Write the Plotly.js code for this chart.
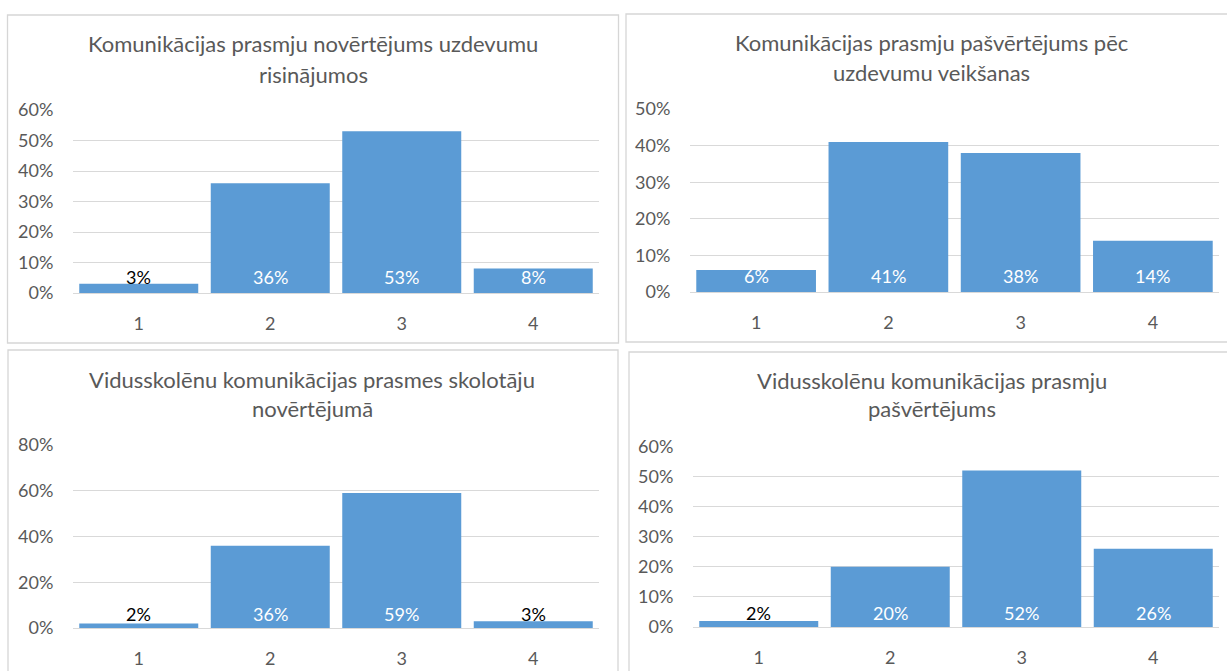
<!DOCTYPE html>
<html>
<head>
<meta charset="utf-8">
<script src="https://cdn.plot.ly/plotly-3.0.1.min.js"></script>
<style>
  html, body { margin: 0; padding: 0; background: #ffffff; }
  #chart { width: 1227px; height: 671px; }
</style>
</head>
<body>
<div id="chart"></div>
<script>
// Skill level categories shared by all four charts
const categories = ['1', '2', '3', '4'];

// Share of answers per level, in percent
const taskAssessment = [3, 36, 53, 8];        // Komunikācijas prasmju novērtējums uzdevumu risinājumos
const selfAfterTasks = [6, 41, 38, 14];       // Komunikācijas prasmju pašvērtējums pēc uzdevumu veikšanas
const teacherAssessment = [2, 36, 59, 3];     // Vidusskolēnu komunikācijas prasmes skolotāju novērtējumā
const studentSelfAssessment = [2, 20, 52, 26]; // Vidusskolēnu komunikācijas prasmju pašvērtējums

// Chart titles, one entry per printed line
const titleLines = [
  ['Komunikācijas prasmju novērtējums uzdevumu', 'risinājumos'],
  ['Komunikācijas prasmju pašvērtējums pēc', 'uzdevumu veikšanas'],
  ['Vidusskolēnu komunikācijas prasmes skolotāju', 'novērtējumā'],
  ['Vidusskolēnu komunikācijas prasmju', 'pašvērtējums']
];

// Value axis maximum and step for each chart
const axisMax = [60, 50, 80, 60];
const axisStep = [10, 10, 20, 10];

const W = 1227, H = 671;
const px = v => v / W;
const py = v => 1 - v / H;

// Pixel layout of each panel: frame box, plot area, title line positions, label lift
const panels = [
  { frame: [7.5, 15, 618.5, 343], plot: [73, 110, 599, 293], titleX: 313, titleY: [44, 74], lift: 16 },
  { frame: [626, 14, 1240, 342], plot: [690, 109, 1219, 292], titleX: 932, titleY: [43, 72], lift: 16 },
  { frame: [8, 350, 618, 690], plot: [73, 445, 599, 628], titleX: 312, titleY: [379, 408], lift: 14 },
  { frame: [629, 352, 1240, 690], plot: [693, 446.5, 1219, 627], titleX: 932, titleY: [380, 409], lift: 14 }
];

const seriesList = [taskAssessment, selfAfterTasks, teacherAssessment, studentSelfAssessment];

const FONT = 'Lato, "Open Sans", sans-serif';
const GREY_TEXT = '#595959';
const GRID = '#d9d9d9';
const BAR = '#5b9bd5';
const TICK_SIZE = 18;

const traces = [];
const annotations = [];
const shapes = [];
const layout = {
  width: W,
  height: H,
  margin: { l: 0, r: 0, t: 0, b: 0 },
  paper_bgcolor: '#ffffff',
  plot_bgcolor: '#ffffff',
  showlegend: false,
  bargap: 0.095,
  font: { family: FONT, color: GREY_TEXT },
  annotations: annotations,
  shapes: shapes
};

panels.forEach((p, i) => {
  const n = i === 0 ? '' : String(i + 1);
  const values = seriesList[i];

  traces.push({
    type: 'bar',
    x: categories,
    y: values,
    xaxis: 'x' + n,
    yaxis: 'y' + n,
    marker: { color: BAR },
    hoverinfo: 'x+y'
  });

  layout['xaxis' + n] = {
    domain: [px(p.plot[0]), px(p.plot[2])],
    anchor: 'y' + n,
    type: 'category',
    categoryarray: categories,
    range: [-0.5, 3.5],
    showgrid: false,
    zeroline: false,
    showline: false,
    ticks: 'outside',
    ticklen: 14,
    tickcolor: 'rgba(0,0,0,0)',
    tickfont: { family: FONT, size: TICK_SIZE, color: GREY_TEXT },
    fixedrange: true
  };

  layout['yaxis' + n] = {
    domain: [py(p.plot[3]), py(p.plot[1])],
    anchor: 'x' + n,
    range: [0, axisMax[i]],
    dtick: axisStep[i],
    tick0: 0,
    ticksuffix: '%',
    showgrid: true,
    gridcolor: GRID,
    gridwidth: 1,
    zeroline: true,
    zerolinecolor: GRID,
    zerolinewidth: 1,
    showline: false,
    ticks: 'outside',
    ticklen: 15,
    tickcolor: 'rgba(0,0,0,0)',
    tickfont: { family: FONT, size: TICK_SIZE, color: GREY_TEXT },
    fixedrange: true
  };

  // Panel frame
  shapes.push({
    type: 'rect',
    xref: 'paper', yref: 'paper',
    x0: px(p.frame[0]), x1: px(p.frame[2]),
    y0: py(p.frame[3]), y1: py(p.frame[1]),
    line: { color: '#d6d6d6', width: 1.3 },
    fillcolor: 'rgba(0,0,0,0)',
    layer: 'below'
  });

  // Title lines
  titleLines[i].forEach((line, k) => {
    annotations.push({
      xref: 'paper', yref: 'paper',
      x: px(p.titleX), y: py(p.titleY[k]),
      xanchor: 'center', yanchor: 'middle',
      text: line,
      showarrow: false,
      font: { family: FONT, size: 22, color: GREY_TEXT }
    });
  });

  // Value labels sit at the base of each bar; short bars get dark text.
  // On a category axis the annotation x is the category's index.
  values.forEach((v, j) => {
    annotations.push({
      xref: 'x' + n, yref: 'y' + n,
      x: j, y: 0,
      yshift: p.lift,
      xanchor: 'center', yanchor: 'middle',
      text: v + '%',
      showarrow: false,
      font: { family: FONT, size: TICK_SIZE, color: v <= 3 ? '#000000' : '#ffffff' }
    });
  });
});

Plotly.newPlot('chart', traces, layout, { displayModeBar: false, staticPlot: true });
</script>
</body>
</html>
